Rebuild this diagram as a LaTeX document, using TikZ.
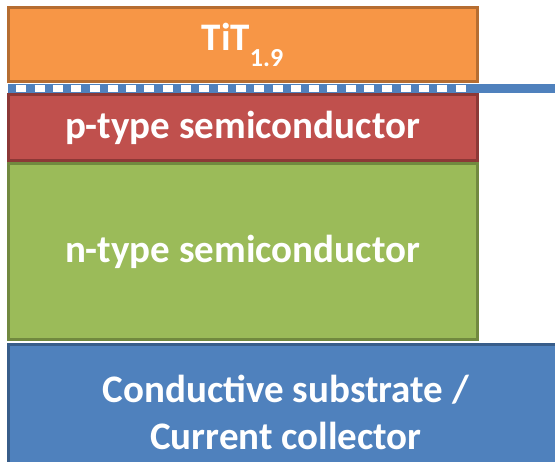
\documentclass[tikz,border=0pt]{standalone}
\usepackage{fontspec}
\setmainfont{Carlito}
\usepackage{xcolor}
\usetikzlibrary{positioning}

\definecolor{orangefill}{HTML}{F79646}
\definecolor{orangeline}{HTML}{B66D31}
\definecolor{redfill}{HTML}{C0504D}
\definecolor{redline}{HTML}{8C3836}
\definecolor{greenfill}{HTML}{9BBB59}
\definecolor{greenline}{HTML}{71893F}
\definecolor{bluefill}{HTML}{4F81BD}
\definecolor{blueline}{HTML}{385D8A}

\begin{document}
\begin{tikzpicture}[
    x=1pt, y=1pt,
    layer/.style={rectangle, line width=3pt, minimum width=469pt, text=white, align=center,
        font=\fontsize{39}{47}\selectfont\bfseries, inner sep=0pt},
    junction/.style={line width=9pt, draw=bluefill},
    gaps/.style={line width=7pt, draw=white, dash pattern=on 10pt off 8.3pt, dash phase=10pt}
]
\useasboundingbox (0,0) rectangle (555,462);
\clip (0,0) rectangle (555,462);

% layer stack
\node[layer, fill=orangefill, draw=orangeline, minimum height=74pt] (tit) at (242.5,417)
    {TiT\raisebox{-0.42em}{\fontsize{26}{26}\selectfont 1.9}};
\node[layer, fill=redfill, draw=redline, minimum height=66pt] (ptype) at (242.5,334) {p-type semiconductor};
\node[layer, fill=greenfill, draw=greenline, minimum height=176pt] (ntype) at (242.5,210) {n-type semiconductor};
\node[layer, fill=bluefill, draw=blueline, minimum width=556pt, minimum height=134pt] (substrate) at (286,50)
    {Conductive substrate /\\Current collector};

% junction line
\coordinate (jl) at (8,373.5);
\coordinate (jd) at (467,373.5);
\coordinate (jr) at (560,373.5);
\draw[junction] (jl) -- (jr);
\draw[gaps] (jl) -- (jd);

\end{tikzpicture}
\end{document}
